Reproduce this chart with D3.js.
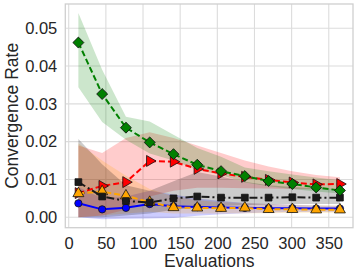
<!DOCTYPE html>
<html>
<head>
<meta charset="utf-8">
<script src="https://d3js.org/d3.v7.min.js"></script>
<style>
  body { margin: 0; background: #fff; }
  svg { font-family: "Liberation Sans", Arial, sans-serif; }
  .tick text { font-size: 16.5px; fill: #262626; }
</style>
</head>
<body>
<div id="chart"></div>
<script>
// evaluations (x)
var evals = [13, 45, 77, 109, 141, 173, 205, 237, 269, 301, 333, 365];

// mean convergence rate per series
var greenMean  = [0.0462, 0.0326, 0.0237, 0.0198, 0.0167, 0.0139, 0.0122, 0.0109, 0.0096, 0.0088, 0.0079, 0.0071];
var redMean    = [0.0064, 0.0083, 0.0093, 0.0149, 0.0147, 0.0128, 0.0116, 0.0107, 0.0099, 0.0092, 0.0087, 0.0088];
var blackMean  = [0.0093, 0.0055, 0.0043, 0.0039, 0.0050, 0.0055, 0.0052, 0.0052, 0.0052, 0.0053, 0.0052, 0.0052];
var orangeMean = [0.0063, 0.0068, 0.0057, 0.0040, 0.0026, 0.0025, 0.0024, 0.0025, 0.0021, 0.0021, 0.0020, 0.0020];
var blueMean   = [0.0037, 0.0021, 0.0025, 0.0035, 0.0029, 0.0027, 0.0026, 0.0025, 0.0024, 0.0024, 0.0023, 0.0023];

// shaded bands (lower / upper)
var greenLo  = [0.0344, 0.0252, 0.0205, 0.0169, 0.0150, 0.0125, 0.0112, 0.0092, 0.0082, 0.0075, 0.0068, 0.0063];
var greenHi  = [0.0540, 0.0390, 0.0266, 0.0253, 0.0218, 0.0183, 0.0160, 0.0132, 0.0122, 0.0113, 0.0105, 0.0098];
var redLo    = [0.0000, 0.0005, 0.0020, 0.0055, 0.0070, 0.0078, 0.0078, 0.0077, 0.0076, 0.0075, 0.0074, 0.0074];
var redHi    = [0.0190, 0.0170, 0.0210, 0.0225, 0.0210, 0.0190, 0.0170, 0.0150, 0.0134, 0.0122, 0.0112, 0.0106];
var blackLo  = [0.0000, 0.0000, 0.0005, 0.0010, 0.0020, 0.0025, 0.0030, 0.0032, 0.0034, 0.0035, 0.0035, 0.0035];
var blackHi  = [0.0207, 0.0140, 0.0085, 0.0070, 0.0095, 0.0120, 0.0108, 0.0094, 0.0085, 0.0080, 0.0077, 0.0075];
var orangeLo = [0.0000, 0.0005, 0.0010, 0.0015, 0.0010, 0.0010, 0.0010, 0.0011, 0.0011, 0.0012, 0.0012, 0.0012];
var orangeHi = [0.0196, 0.0150, 0.0110, 0.0075, 0.0055, 0.0045, 0.0040, 0.0038, 0.0035, 0.0033, 0.0032, 0.0031];
var blueLo   = [0.0000, -0.0005, -0.0004, -0.0003, -0.0002, 0.0004, 0.0008, 0.0011, 0.0013, 0.0014, 0.0015, 0.0015];
var blueHi   = [0.0080, 0.0050, 0.0055, 0.0070, 0.0060, 0.0050, 0.0043, 0.0038, 0.0035, 0.0033, 0.0031, 0.0030];

var xTicks = [0, 50, 100, 150, 200, 250, 300, 350];
var yTicks = [0.00, 0.01, 0.02, 0.03, 0.04, 0.05];

var margin = { top: 4, right: 4, bottom: 47.3, left: 65.3 };
var W = 357, H = 275;
var width = W - margin.left - margin.right;
var height = H - margin.top - margin.bottom;

var svg = d3.select("#chart").append("svg")
  .attr("width", W).attr("height", H);
var g = svg.append("g")
  .attr("transform", "translate(" + margin.left + "," + margin.top + ")");

var x = d3.scaleLinear().domain([-4.6, 382.6]).range([0, width]);
var y = d3.scaleLinear().domain([-0.00275, 0.0564]).range([height, 0]);

// grid
g.append("g").selectAll("line").data(xTicks).enter().append("line")
  .attr("x1", function (d) { return x(d); }).attr("x2", function (d) { return x(d); })
  .attr("y1", 0).attr("y2", height)
  .attr("stroke", "#dcdcdc").attr("stroke-width", 1.1);
g.append("g").selectAll("line").data(yTicks).enter().append("line")
  .attr("y1", function (d) { return y(d); }).attr("y2", function (d) { return y(d); })
  .attr("x1", 0).attr("x2", width)
  .attr("stroke", "#dcdcdc").attr("stroke-width", 1.1);

var series = [
  { mean: blueMean,   lo: blueLo,   hi: blueHi,   color: "#0000ff", fill: "rgba(0,0,255,0.2)",   dash: null,        marker: "circle" },
  { mean: redMean,    lo: redLo,    hi: redHi,    color: "#ff0000", fill: "rgba(255,0,0,0.2)",   dash: "6,3",       marker: "right" },
  { mean: orangeMean, lo: orangeLo, hi: orangeHi, color: "#ffa500", fill: "rgba(255,165,0,0.2)", dash: "6,3",       marker: "up" },
  { mean: blackMean,  lo: blackLo,  hi: blackHi,  color: "#1a1a1a", fill: "rgba(0,0,0,0.2)",     dash: "8,3,2,3",   marker: "square" },
  { mean: greenMean,  lo: greenLo,  hi: greenHi,  color: "#008000", fill: "rgba(0,128,0,0.2)",   dash: "6,3",       marker: "diamond" }
];

// bands first
series.forEach(function (s) {
  var area = d3.area()
    .x(function (d, i) { return x(evals[i]); })
    .y0(function (d, i) { return y(s.lo[i]); })
    .y1(function (d, i) { return y(s.hi[i]); });
  g.append("path").datum(evals).attr("d", area).attr("fill", s.fill);
});

var shapes = {
  circle: d3.symbol().type(d3.symbolCircle).size(42),
  square: d3.symbol().type(d3.symbolSquare).size(46),
  diamond: d3.symbol().type(d3.symbolSquare).size(60),
  up: d3.symbol().type(d3.symbolTriangle).size(52),
  right: d3.symbol().type(d3.symbolTriangle).size(52)
};

series.forEach(function (s) {
  var line = d3.line()
    .x(function (d, i) { return x(evals[i]); })
    .y(function (d) { return y(d); });
  g.append("path").datum(s.mean).attr("d", line)
    .attr("fill", "none").attr("stroke", s.color).attr("stroke-width", 2)
    .attr("stroke-dasharray", s.dash);
  g.append("g").selectAll("path").data(s.mean).enter().append("path")
    .attr("d", shapes[s.marker])
    .attr("transform", function (d, i) {
      var t = "translate(" + x(evals[i]) + "," + y(d) + ")";
      if (s.marker == "diamond") t += " rotate(45)";
      if (s.marker == "right") t += " rotate(90)";
      return t;
    })
    .attr("fill", s.color).attr("stroke", "#111").attr("stroke-width", 0.8);
});

// spines
g.append("rect").attr("x", 0).attr("y", 0).attr("width", width).attr("height", height)
  .attr("fill", "none").attr("stroke", "#cfcfcf").attr("stroke-width", 1.3);

// axes
var xAxis = g.append("g").attr("transform", "translate(0," + height + ")")
  .call(d3.axisBottom(x).tickValues(xTicks).tickSize(0).tickPadding(10));
var yAxis = g.append("g")
  .call(d3.axisLeft(y).tickValues(yTicks).tickFormat(d3.format(".2f")).tickSize(0).tickPadding(8));
xAxis.select(".domain").remove();
yAxis.select(".domain").remove();
xAxis.selectAll("text").attr("font-family", "Liberation Sans, Arial, sans-serif");
yAxis.selectAll("text").attr("font-family", "Liberation Sans, Arial, sans-serif");

svg.append("text")
  .attr("x", margin.left + width / 2).attr("y", 267)
  .attr("text-anchor", "middle").attr("font-size", 17.5).attr("fill", "#262626")
  .text("Evaluations");
svg.append("text")
  .attr("transform", "translate(18," + (margin.top + height / 2) + ") rotate(-90)")
  .attr("text-anchor", "middle").attr("font-size", 17.5).attr("fill", "#262626")
  .text("Convergence Rate");
</script>
</body>
</html>
